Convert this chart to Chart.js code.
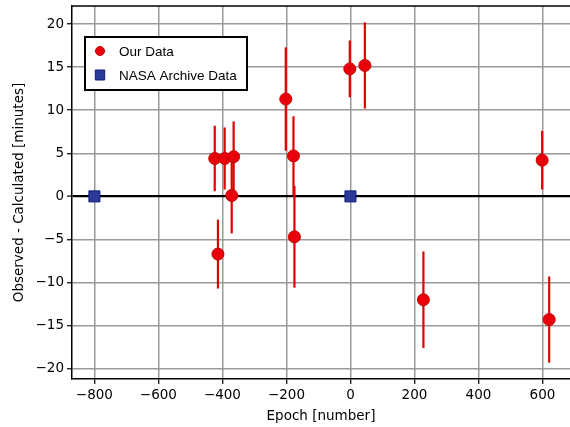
<!DOCTYPE html>
<html>
<head>
<meta charset="utf-8">
<script src="https://cdn.jsdelivr.net/npm/chart.js@4"></script>
<style>
  html, body { margin: 0; padding: 0; background: #fff; overflow: hidden; }
  #wrap { width: 570px; height: 427px; }
</style>
</head>
<body>
<div id="wrap"><canvas id="oc-chart" width="570" height="427"></canvas></div>
<script>
// our timings
var ourEpoch = [-424, -393, -365, -371, -414, -202, -178, -175, -2, 45, 228, 599, 621];
var ourOC    = [4.4, 4.4, 4.6, 0.1, -6.7, 11.3, 4.7, -4.7, 14.8, 15.2, -12.0, 4.2, -14.3];
var ourErr   = [3.8, 3.6, 4.1, 4.4, 4.0, 6.0, 4.6, 5.9, 3.3, 5.0, 5.6, 3.4, 5.0];

// archive timings
var nasaEpoch = [-800, 0];
var nasaOC    = [0, 0];

var xTicks = [-800, -600, -400, -200, 0, 200, 400, 600];
var yTicks = [-20, -15, -10, -5, 0, 5, 10, 15, 20];

function toPoints(xs, ys){
  return xs.map(function(x, i){ return {x: x, y: ys[i]}; });
}

function fmt(v){
  return v < 0 ? '\u2212' + Math.abs(v) : '' + v;
}

var errorBars = {
  id: 'errorBars',
  beforeDatasetsDraw: function(chart){
    var ctx = chart.ctx, xs = chart.scales.x, ys = chart.scales.y;
    ctx.save();
    ctx.strokeStyle = '#e00000';
    ctx.lineWidth = 2.2;
    ourEpoch.forEach(function(e, i){
      var px = xs.getPixelForValue(e);
      ctx.beginPath();
      ctx.moveTo(px, ys.getPixelForValue(ourOC[i] + ourErr[i]));
      ctx.lineTo(px, ys.getPixelForValue(ourOC[i] - ourErr[i]));
      ctx.stroke();
    });
    ctx.restore();
  }
};

var frameAndLegend = {
  id: 'frameAndLegend',
  afterDraw: function(chart){
    var ctx = chart.ctx, a = chart.chartArea;
    ctx.save();
    // top spine
    ctx.strokeStyle = '#000';
    ctx.lineWidth = 1.5;
    ctx.beginPath();
    ctx.moveTo(a.left, a.top);
    ctx.lineTo(a.right, a.top);
    ctx.stroke();

    // legend box
    ctx.fillStyle = '#fff';
    ctx.fillRect(85, 37, 162, 53);
    ctx.lineWidth = 2;
    ctx.strokeRect(85, 37, 162, 53);

    ctx.font = '13.5px "Liberation Sans", Arial, sans-serif';
    ctx.textBaseline = 'middle';
    chart.data.datasets.forEach(function(ds, i){
      var y = 51 + i * 24;
      ctx.fillStyle = ds.backgroundColor;
      ctx.strokeStyle = ds.borderColor;
      ctx.lineWidth = 1;
      ctx.beginPath();
      if (ds.pointStyle === 'rect') {
        ctx.rect(100 - 4.7, y - 5, 9.4, 10);
      } else {
        ctx.arc(100, y, 4.5, 0, Math.PI * 2);
      }
      ctx.fill();
      ctx.stroke();
      ctx.fillStyle = '#000';
      ctx.fillText(ds.label, 119, y + 1);
    });
    ctx.restore();
  }
};

new Chart(document.getElementById('oc-chart'), {
  type: 'scatter',
  data: {
    datasets: [
      {
        label: 'Our Data',
        data: toPoints(ourEpoch, ourOC),
        pointStyle: 'circle',
        backgroundColor: '#e8000b',
        borderColor: '#c80000',
        borderWidth: 1,
        pointRadius: 6,
        pointHoverRadius: 6
      },
      {
        label: 'NASA Archive Data',
        data: toPoints(nasaEpoch, nasaOC),
        pointStyle: 'rect',
        backgroundColor: '#2b3a98',
        borderColor: '#101c78',
        borderWidth: 1,
        pointRadius: 7.8,
        pointHoverRadius: 7.8
      }
    ]
  },
  options: {
    responsive: false,
    animation: false,
    events: [],
    layout: { autoPadding: false, padding: { top: 6, right: 0, left: 0, bottom: 0 } },
    plugins: {
      legend: { display: false },
      tooltip: { enabled: false }
    },
    scales: {
      x: {
        type: 'linear',
        min: -870,
        max: 686,
        afterFit: function(s){ s.height = 48; s.paddingLeft = 0; s.paddingRight = 0; },
        afterBuildTicks: function(s){ s.ticks = xTicks.map(function(v){ return {value: v}; }); },
        border: { color: '#000', width: 1.5 },
        grid: {
          color: '#999',
          lineWidth: 1.5,
          tickColor: '#000',
          tickLength: 5,
          tickWidth: 1.2
        },
        ticks: {
          color: '#000',
          padding: 3,
          maxRotation: 0,
          autoSkip: false,
          font: { family: '"DejaVu Sans"', size: 13.5 },
          callback: function(v){ return fmt(v); }
        },
        title: {
          display: true,
          text: 'Epoch [number]',
          color: '#000',
          font: { family: '"DejaVu Sans"', size: 13.5 },
          padding: { top: 2, bottom: 2 }
        }
      },
      y: {
        type: 'linear',
        min: -21.2,
        max: 22.1,
        afterFit: function(s){ s.width = 72; s.paddingTop = 0; s.paddingBottom = 0; },
        afterBuildTicks: function(s){ s.ticks = yTicks.map(function(v){ return {value: v}; }); },
        border: { color: '#000', width: 1.5 },
        grid: {
          color: function(c){ return c.tick && c.tick.value === 0 ? '#000' : '#999'; },
          lineWidth: function(c){ return c.tick && c.tick.value === 0 ? 2.2 : 1.5; },
          tickColor: '#000',
          tickLength: 5,
          tickWidth: 1.2
        },
        ticks: {
          color: '#000',
          padding: 3,
          autoSkip: false,
          font: { family: '"DejaVu Sans"', size: 13.5 },
          callback: function(v){ return fmt(v); }
        },
        title: {
          display: true,
          text: 'Observed - Calculated [minutes]',
          color: '#000',
          font: { family: '"DejaVu Sans"', size: 13.5 },
          padding: { top: 11, bottom: 0 }
        }
      }
    }
  },
  plugins: [errorBars, frameAndLegend]
});
</script>
</body>
</html>
